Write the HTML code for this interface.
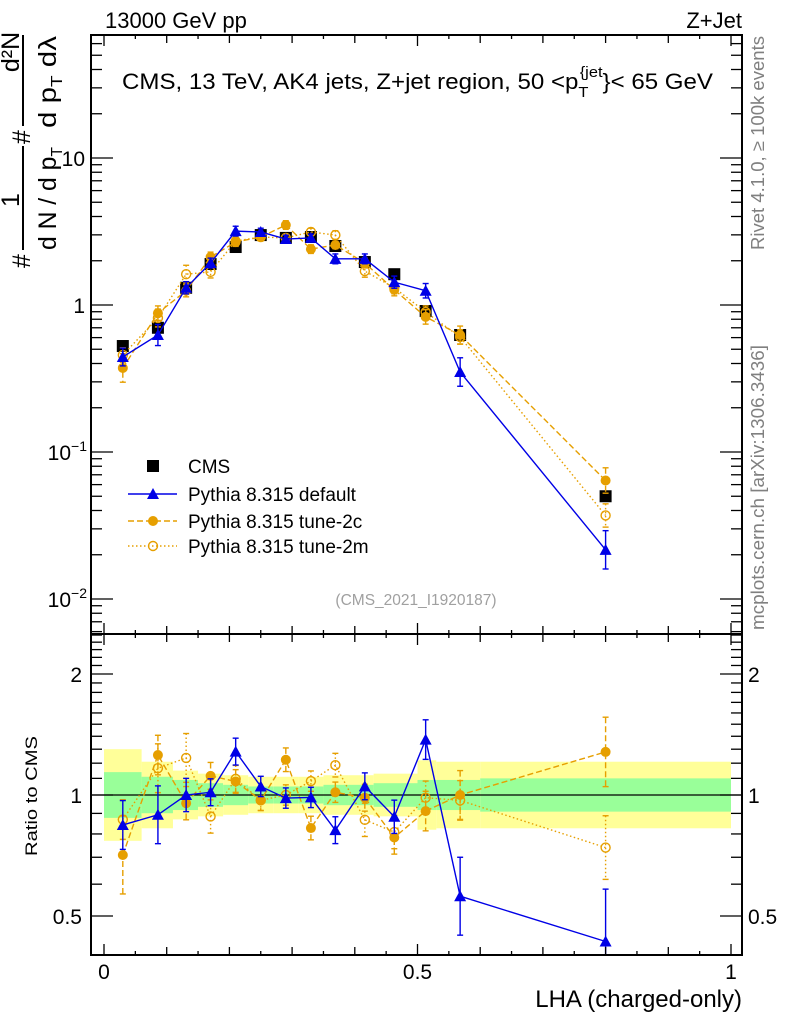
<!DOCTYPE html>
<html><head><meta charset="utf-8">
<style>
html,body{margin:0;padding:0;background:#fff;}
svg{display:block;font-family:"Liberation Sans",sans-serif;}
</style></head>
<body>
<svg id="chart" width="786" height="1024" viewBox="0 0 786 1024" xmlns="http://www.w3.org/2000/svg">
<g id="bands"></g>
<g id="marks"></g>
<g id="axes"></g>
<text x="105" y="28" font-size="22">13000 GeV pp</text>
<text x="742" y="28" font-size="22" text-anchor="end">Z+Jet</text>
<text x="122" y="89" font-size="22" textLength="591" lengthAdjust="spacingAndGlyphs">CMS, 13 TeV, AK4 jets, Z+jet region, 50 &lt;p<tspan font-size="15" dy="8">T</tspan><tspan font-size="15" dx="-8" dy="-20">{jet</tspan><tspan dy="12">}&lt; 65 GeV</tspan></text>
<text x="416" y="605" font-size="15.5" fill="#a0a0a0" text-anchor="middle">(CMS_2021_I1920187)</text>
<text transform="translate(764,36) rotate(-90)" font-size="18" fill="#808080" text-anchor="end" textLength="214" lengthAdjust="spacingAndGlyphs">Rivet 4.1.0, ≥ 100k events</text>
<text transform="translate(764,630) rotate(-90)" font-size="18" fill="#808080" textLength="285" lengthAdjust="spacingAndGlyphs">mcplots.cern.ch [arXiv:1306.3436]</text>
<g font-size="25">
  <text transform="translate(30,268) rotate(-90)">#</text>
  <text transform="translate(19,200) rotate(-90)" text-anchor="middle">1</text>
  <line x1="23" y1="250" x2="23" y2="146" stroke="#000" stroke-width="2"/>
  <text transform="translate(56,250) rotate(-90)" textLength="103" lengthAdjust="spacingAndGlyphs">d N / d p<tspan font-size="16" dy="6">T</tspan></text>
  <text transform="translate(30,144) rotate(-90)">#</text>
  <text transform="translate(19,52) rotate(-90)" text-anchor="middle">d²N</text>
  <line x1="23" y1="126" x2="23" y2="35" stroke="#000" stroke-width="2"/>
  <text transform="translate(56,128) rotate(-90)" textLength="92" lengthAdjust="spacingAndGlyphs">d p<tspan font-size="16" dy="6">T</tspan><tspan dy="-6"> dλ</tspan></text>
</g>
<text transform="translate(37,796) rotate(-90)" font-size="17" text-anchor="middle" textLength="120" lengthAdjust="spacingAndGlyphs">Ratio to CMS</text>
<text x="742" y="1007" font-size="24" text-anchor="end">LHA (charged-only)</text>
<g id="legend"></g>
</svg>
<script>
const xVals=[0.030,0.086,0.131,0.170,0.210,0.250,0.290,0.330,0.369,0.416,0.463,0.513,0.568,0.800];
const binEdges=[0,0.06,0.11,0.15,0.19,0.23,0.27,0.31,0.35,0.39,0.43,0.50,0.53,0.60,1.0];
const cms=[0.526,0.70,1.31,1.90,2.48,2.99,2.86,2.90,2.52,1.96,1.62,0.91,0.625,0.050];
const statErr=[0.14,0.11,0.09,0.07,0.06,0.05,0.05,0.05,0.06,0.06,0.07,0.09,0.09,0.10];
const totErr=[0.30,0.21,0.15,0.13,0.12,0.11,0.11,0.11,0.12,0.12,0.13,0.22,0.21,0.21];
const pyDefault=[0.443,0.625,1.31,1.93,3.18,3.14,2.81,2.86,2.06,2.06,1.43,1.25,0.35,0.0216];
const pyDefaultErr=[0.15,0.18,0.1,0.08,0.08,0.06,0.06,0.06,0.08,0.08,0.1,0.12,0.25,0.35];
const py2c=[0.373,0.88,1.25,2.12,2.68,2.90,3.50,2.40,2.56,1.93,1.27,0.83,0.625,0.064];
const py2cErr=[0.25,0.12,0.1,0.08,0.07,0.06,0.07,0.07,0.06,0.08,0.1,0.12,0.15,0.22];
const py2m=[0.457,0.816,1.62,1.68,2.72,2.90,2.86,3.14,2.99,1.70,1.31,0.896,0.606,0.037];
const py2mErr=[0.12,0.15,0.15,0.1,0.08,0.06,0.06,0.06,0.07,0.1,0.1,0.1,0.12,0.2];
const mainTicks=["10","1","10⁻¹","10⁻²"];
const ratioTicks=["2","1","0.5"];
const xTicks=["0","0.5","1"];

const NS="http://www.w3.org/2000/svg";
const L=91,R=742,T=35,MB=634,RB=955;
const X=v=>104+v*627;
const Y=v=>305-147*Math.log10(v);
const YR=r=>795-121*Math.log2(r);
function mk(parent,tag,attrs){const e=document.createElementNS(NS,tag);for(const k in attrs)e.setAttribute(k,attrs[k]);parent.appendChild(e);return e;}
const axes=document.getElementById('axes'),marks=document.getElementById('marks'),bands=document.getElementById('bands'),legend=document.getElementById('legend');

for(let i=0;i<cms.length;i++){
  const x0=X(binEdges[i]),x1=X(binEdges[i+1]);
  let r=mk(bands,'rect',{x:x0,y:YR(1+totErr[i]),width:x1-x0,height:YR(1/(1+totErr[i]))-YR(1+totErr[i]),fill:'#ffff99'});
  
  
  r=mk(bands,'rect',{x:x0,y:YR(1+statErr[i]),width:x1-x0,height:YR(1/(1+statErr[i]))-YR(1+statErr[i]),fill:'#99ff99'});
  
  
}
let ref=mk(bands,'line',{x1:L,x2:R,y1:YR(1),y2:YR(1),stroke:'#000','stroke-width':1.2});



let f=mk(axes,'rect',{x:L,y:T,width:R-L,height:MB-T,fill:'none',stroke:'#000','stroke-width':2});


f=mk(axes,'rect',{x:L,y:MB,width:R-L,height:RB-MB,fill:'none',stroke:'#000','stroke-width':2});


function tick(x1,y1,x2,y2){mk(axes,'line',{x1,y1,x2,y2,stroke:'#000','stroke-width':1.3});}
for(let k=0;k<=20;k++){const v=k*0.05,x=X(v);const len=k%10==0?11:(k%2==0?8:4);
  [T,MB].forEach(t=>tick(x,t,x,t+len));[MB,RB].forEach(b=>tick(x,b,x,b-len));}
xTicks.forEach((s,i)=>{const t=mk(axes,'text',{x:X(i*0.5),y:979,'font-size':21,'text-anchor':'middle'});t.textContent=s;
  
  });
for(let d=-3;d<=1;d++){for(let m=1;m<=9;m++){const v=m*Math.pow(10,d),y=Y(v);if(y<T||y>MB)continue;const len=m==1?22:11;tick(L,y,L+len,y);tick(R,y,R-len,y);}}
mainTicks.forEach((s,i)=>{const v=Math.pow(10,1-i);const t=mk(axes,'text',{x:i<2?85:87,y:Y(v)+8,'font-size':21,'text-anchor':'end'});
  if(i<2)t.textContent=s;else{t.textContent='10';const sp=mk(t,'tspan',{dy:-9,'font-size':14});sp.textContent=i==2?'−1':'−2';}
  
  });
for(let k=4;k<=25;k++){const v=k/10,y=YR(v);if(y<MB||y>RB)continue;const len=(k==5||k==10||k==20)?22:11;tick(L,y,L+len,y);tick(R,y,R-len,y);}
ratioTicks.forEach((s,i)=>{const v=[2,1,0.5][i];[82,748].forEach((x,j)=>{const t=mk(axes,'text',{x,y:YR(v)+8,'font-size':21,'text-anchor':j?'start':'end'});t.textContent=s;
  
  });});

const orange='#e69f00',blue='#0000e6';
function series(vals,errs,color,dash,marker,name){
  const g=mk(marks,'g',{});
  
  
  const ratio=vals.map((v,i)=>v/cms[i]);
  [[vals,Y,T,MB],[ratio,YR,MB,RB]].forEach(([arr,fy,top,bot])=>{
    const pts=arr.map((v,i)=>X(xVals[i])+','+fy(v)).join(' ');
    const pl=mk(g,'polyline',{points:pts,fill:'none',stroke:color,'stroke-width':1.4,'stroke-dasharray':dash});
    
    
    arr.forEach((v,i)=>{const x=X(xVals[i]),y1=fy(v*(1+errs[i])),y2=fy(v/(1+errs[i]));
      mk(g,'line',{x1:x,x2:x,y1:Math.max(y1,top),y2:Math.min(y2,bot),stroke:color,'stroke-width':1.4,'stroke-dasharray':dash});
      if(y1>top)mk(g,'line',{x1:x-3,x2:x+3,y1:y1,y2:y1,stroke:color,'stroke-width':1.4});
      if(y2<bot)mk(g,'line',{x1:x-3,x2:x+3,y1:y2,y2:y2,stroke:color,'stroke-width':1.4});
      const y=fy(v);if(y<top||y>bot)return;
      const m=drawMarker(g,marker,x,y,color);
      
      
    });
  });
}
function drawMarker(g,marker,x,y,color){
  if(marker=='tri')return mk(g,'polygon',{points:`${x},${y-6} ${x-6},${y+5} ${x+6},${y+5}`,fill:color});
  if(marker=='dot')return mk(g,'circle',{cx:x,cy:y,r:5,fill:color});
  if(marker=='ring')return mk(g,'circle',{cx:x,cy:y,r:4.5,fill:'none',stroke:color,'stroke-width':1.4});
  return mk(g,'rect',{x:x-6,y:y-6,width:12,height:12,fill:'#000'});
}
const cg=mk(marks,'g',{});


cms.forEach((v,i)=>{const m=drawMarker(cg,'sq',X(xVals[i]),Y(v));
  
  });
series(py2m,py2mErr,orange,'1.5,2.5','ring','pythia-tune-2m');
series(py2c,py2cErr,orange,'6,3','dot','pythia-tune-2c');
series(pyDefault,pyDefaultErr,blue,'','tri','pythia-default');

const entries=[['CMS','#000','','sq'],['Pythia 8.315 default',blue,'','tri'],['Pythia 8.315 tune-2c',orange,'6,3','dot'],['Pythia 8.315 tune-2m',orange,'1.5,2.5','ring']];
const ly=[466,494,521,546];
entries.forEach((e,i)=>{const g=mk(legend,'g',{});
  
  
  if(i>0)mk(g,'line',{x1:128,x2:177,y1:ly[i],y2:ly[i],stroke:e[1],'stroke-width':1.4,'stroke-dasharray':e[2]});
  drawMarker(g,e[3],153,ly[i],e[1]);
  const t=mk(g,'text',{x:188,y:ly[i]+7,'font-size':19});t.textContent=e[0];});
</script>
</body></html>
